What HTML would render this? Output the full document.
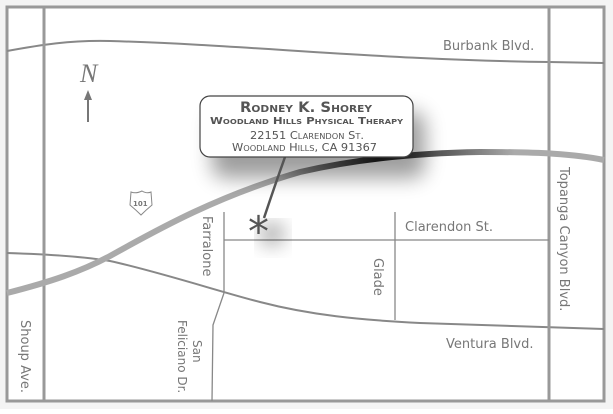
<!DOCTYPE html>
<html><head><style>
body{margin:0;background:#fff;}
svg text{font-family:"DejaVu Sans","Liberation Sans",sans-serif;fill:#777;}
</style></head><body>
<svg width="613" height="409" viewBox="0 0 613 409" xmlns="http://www.w3.org/2000/svg">
<defs>
<filter id="sh" x="-30%" y="-30%" width="170%" height="200%"><feGaussianBlur stdDeviation="10"/></filter>
<linearGradient id="fw" x1="0" x2="1" y1="0" y2="0">
<stop offset="0" stop-color="#aaa"/><stop offset="0.45" stop-color="#aaa"/><stop offset="0.62" stop-color="#222"/><stop offset="0.75" stop-color="#666"/><stop offset="0.85" stop-color="#aaa"/><stop offset="1" stop-color="#aaa"/>
</linearGradient>
</defs>
<rect x="0" y="0" width="613" height="409" fill="#f4f4f4"/>
<rect x="7" y="7" width="597" height="394" fill="#fff" stroke="#999" stroke-width="3"/>
<path d="M7,51 C40,45 70,40 110,41 C250,45 380,60 549,62 L604,63" fill="none" stroke="#888" stroke-width="2"/>
<path d="M7,253 C40,254 80,256 110,261 C160,272 224,293 260,302 C310,315 360,320 420,323 C480,325 540,327 604,329" fill="none" stroke="#888" stroke-width="2"/>
<line x1="44" y1="7" x2="44" y2="401" stroke="#999" stroke-width="3"/>
<line x1="549" y1="7" x2="549" y2="401" stroke="#999" stroke-width="3"/>
<line x1="224" y1="212" x2="224" y2="293" stroke="#888" stroke-width="1.3"/>
<path d="M224,293 L213,325 L212,401" fill="none" stroke="#888" stroke-width="1.3"/>
<line x1="224" y1="240" x2="549" y2="240" stroke="#888" stroke-width="1.3"/>
<line x1="395" y1="212" x2="395" y2="320" stroke="#888" stroke-width="1.3"/>
<path d="M7,293 C50,282 80,272 110,256 C160,228 220,195 300,172 C360,158 420,153 480,152 C540,152 575,154 604,160" fill="none" stroke="url(#fw)" stroke-width="6"/>
<text x="443" y="50" font-size="13">Burbank Blvd.</text>
<text x="405" y="231" font-size="13">Clarendon St.</text>
<text x="446" y="348" font-size="13">Ventura Blvd.</text>
<text transform="translate(560,167) rotate(90)" font-size="13">Topanga Canyon Blvd.</text>
<text transform="translate(21,320) rotate(90)" font-size="13">Shoup Ave.</text>
<text transform="translate(203,216) rotate(90)" font-size="13">Farralone</text>
<text transform="translate(374,258) rotate(90)" font-size="13">Glade</text>
<text transform="translate(193,340) rotate(90)" font-size="12">San</text>
<text transform="translate(178,320) rotate(90)" font-size="12">Feliciano Dr.</text>
<text x="80" y="82" font-size="26" font-style="italic" style="font-family:'Liberation Serif',serif">N</text>
<line x1="88" y1="122" x2="88" y2="98" stroke="#777" stroke-width="2"/>
<path d="M84,100 L88,90 L92,100 Z" fill="#777"/>
<path d="M131,192 Q136,194 142,191 Q147,194 151,192 L152,205 Q146,210 141,215 Q136,210 130,205 Z" fill="#fff" stroke="#888" stroke-width="1"/>
<text x="133" y="206" font-size="7" font-weight="bold">101</text>
<rect x="212" y="112" width="213" height="66" rx="12" fill="#000" opacity="0.38" filter="url(#sh)"/>
<ellipse cx="272" cy="234" rx="11" ry="10" fill="#000" opacity="0.45" filter="url(#sh)"/>
<path d="M285,157 Q275,185 264,218" fill="none" stroke="#555" stroke-width="2.5"/>
<text x="248" y="246" font-size="42" style="fill:#555">*</text>
<rect x="200" y="96" width="213" height="61" rx="10" fill="#fff" stroke="#444" stroke-width="1.2"/>
<g style="fill:#555;font-variant:small-caps;font-family:'Liberation Sans',sans-serif">
<text x="240" y="112" font-size="14" font-weight="bold" textLength="132" lengthAdjust="spacingAndGlyphs" style="fill:#555">Rodney K. Shorey</text>
<text x="210" y="124" font-size="10" font-weight="bold" textLength="193" lengthAdjust="spacingAndGlyphs" style="fill:#555">Woodland Hills Physical Therapy</text>
<text x="250" y="139" font-size="11" textLength="114" lengthAdjust="spacingAndGlyphs" style="fill:#555">22151 Clarendon St.</text>
<text x="232" y="151" font-size="11" textLength="145" lengthAdjust="spacingAndGlyphs" style="fill:#555">Woodland Hills, CA  91367</text>
</g>
</svg>
</body></html>
